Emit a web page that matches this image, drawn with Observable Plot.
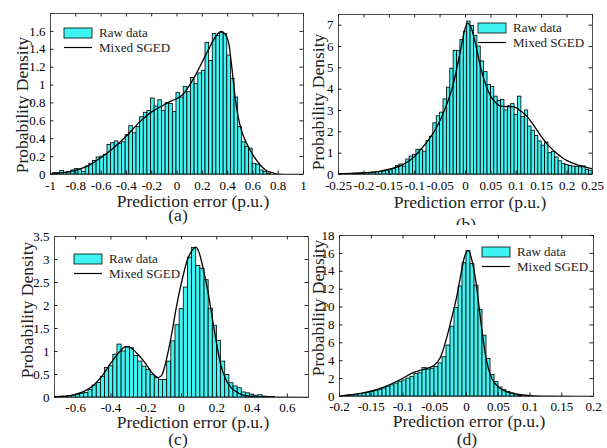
<!DOCTYPE html>
<html><head><meta charset="utf-8">
<script src="https://cdn.jsdelivr.net/npm/d3@7"></script>
<script src="https://cdn.jsdelivr.net/npm/@observablehq/plot@0.6"></script>
<style>
body{margin:0;background:#fff;}
#root{position:relative;width:607px;height:448px;overflow:hidden;background:#fff;font-family:"Liberation Serif","Times New Roman",serif;}
.panel{position:absolute;overflow:hidden;}
.panel svg{position:absolute;left:0;top:0;}
</style></head><body><div id="root"></div>
<script>
// ---------- DATA ----------
// (a)
const binStartA = -0.98, binWidthA = 0.0287;
const heightsA = [0.015,0.015,0.04,0.02,0.025,0.045,0.06,0.055,0.03,0.09,
  0.12,0.15,0.19,0.2,0.22,0.33,0.35,0.37,0.34,0.36,
  0.44,0.54,0.46,0.53,0.64,0.69,0.71,0.85,0.76,0.83,
  0.71,0.8,0.79,0.7,0.91,0.86,0.98,0.92,1.08,1.01,
  1.13,1.16,1.47,1.27,1.57,1.55,1.58,1.57,1.33,1.07,
  0.86,0.53,0.36,0.31,0.29,0.12,0.11,0.045,0.03,0.01];
const curveXA = [-1,-0.9,-0.8,-0.7,-0.6,-0.5,-0.4,-0.3,-0.2,-0.1,-0.05,0,0.05,0.1,0.15,0.2,0.25,0.3,0.35,0.38,0.41,0.43,0.46,0.49,0.52,0.55,0.6,0.65,0.7,0.75,0.8,0.9,1];
const curveYA = [0.005,0.02,0.05,0.1,0.19,0.3,0.43,0.58,0.7,0.78,0.82,0.85,0.9,1.0,1.12,1.26,1.4,1.53,1.6,1.57,1.46,1.24,0.86,0.6,0.45,0.35,0.22,0.12,0.05,0.02,0.005,0.001,0];
const xTicksA = [-1,-0.8,-0.6,-0.4,-0.2,0,0.2,0.4,0.6,0.8,1];
const yTicksA = [0,0.2,0.4,0.6,0.8,1,1.2,1.4,1.6];

// (b)
const binStartB = -0.25, binWidthB = 0.006667;
const heightsB = [0.02,0.02,0.03,0.03,0.04,0.04,0.05,0.06,0.07,0.08,0.09,0.11,0.12,
  0.14,0.17,0.2,0.26,0.4,0.47,0.37,0.7,0.84,0.92,1.16,1.16,1.07,1.57,1.77,2.4,2.73,2.9,3.52,4.07,4.96,5.8,5.8,6.3,6.7,
  7.17,6.96,6.5,6.0,5.3,4.8,4.2,4.1,
  3.65,3.45,3.5,3.0,3.2,3.3,2.8,3.65,2.7,3.0,2.25,2.05,1.8,1.55,1.35,1.5,1.0,1.05,0.8,0.62,0.5,0.45,0.4,0.37,0.36,0.34,0.38,0.22,0.18];
const curveXB = [-0.25,-0.2,-0.17,-0.15,-0.124,-0.1,-0.09,-0.075,-0.057,-0.04,-0.024,-0.01,0,0.004,0.01,0.02,0.03,0.04,0.05,0.06,0.07,0.08,0.09,0.1,0.11,0.12,0.13,0.14,0.15,0.16,0.17,0.18,0.19,0.2,0.22,0.24,0.25];
const curveYB = [0.02,0.07,0.15,0.25,0.45,0.85,1.12,1.55,2.2,3.1,4.24,5.8,6.9,7.1,6.95,6.1,5.0,4.2,3.65,3.35,3.2,3.18,3.18,3.12,2.95,2.75,2.45,2.1,1.75,1.45,1.2,0.98,0.8,0.65,0.45,0.32,0.27];
const xTicksB = [-0.25,-0.2,-0.15,-0.1,-0.05,0,0.05,0.1,0.15,0.2,0.25];
const yTicksB = [0,1,2,3,4,5,6,7];

// (c)
const binStartC = -0.7155, binWidthC = 0.0235;
const heightsC = [0.01,0.02,0.02,0.03,0.04,0.06,0.08,0.1,0.16,0.26,0.32,0.45,0.64,0.68,0.93,1.15,1.0,1.1,1.07,0.9,0.78,0.67,0.6,0.49,0.42,0.38,0.38,0.78,1.22,1.57,1.92,2.39,3.04,
  3.25,2.86,2.8,2.55,1.93,1.56,1.23,0.78,0.49,0.31,0.24,0.2,0.11,0.09,0.06,0.04,0.05,0.02,0.01,0.01];
const curveXC = [-0.72,-0.65,-0.6,-0.55,-0.5,-0.45,-0.4,-0.35,-0.32,-0.3,-0.27,-0.25,-0.2,-0.17,-0.15,-0.13,-0.11,-0.09,-0.07,-0.05,-0.03,0,0.03,0.06,0.08,0.1,0.12,0.15,0.18,0.2,0.22,0.25,0.28,0.3,0.35,0.4,0.5,0.72];
const curveYC = [0.01,0.03,0.07,0.14,0.26,0.47,0.75,1.0,1.1,1.1,1.03,0.95,0.72,0.55,0.47,0.43,0.5,0.75,1.1,1.5,1.95,2.5,2.95,3.2,3.27,3.15,2.85,2.3,1.6,1.15,0.75,0.4,0.22,0.15,0.05,0.02,0.005,0];
const xTicksC = [-0.6,-0.4,-0.2,0,0.2,0.4,0.6];
const yTicksC = [0,0.5,1,1.5,2,2.5,3,3.5];

// (d)
const binStartD = -0.1953, binWidthD = 0.0063;
const heightsD = [0.05,0.1,0.15,0.2,0.3,0.35,0.45,0.55,0.65,0.75,0.9,1.1,1.25,1.45,1.65,1.8,2.0,2.2,2.5,2.6,3.2,3.0,3.1,3.3,3.7,4.4,5.7,7.8,9.9,12.3,14.9,
  16.25,14.8,12.4,9.7,6.8,4.2,2.4,1.6,1.0,0.7,0.5,0.35,0.2,0.1];
const curveXD = [-0.2,-0.18,-0.156,-0.13,-0.104,-0.083,-0.06,-0.051,-0.041,-0.033,-0.025,-0.015,-0.009,-0.004,0.003,0.009,0.017,0.022,0.03,0.04,0.054,0.065,0.08,0.1,0.13,0.2];
const curveYD = [0.05,0.2,0.48,1.05,1.9,2.7,3.2,3.5,4.4,6.1,8.3,11.3,13.6,15.4,16.3,15.1,11.7,8.7,4.6,2.0,0.86,0.5,0.25,0.1,0.04,0];
const xTicksD = [-0.2,-0.15,-0.1,-0.05,0,0.05,0.1,0.15,0.2];
const yTicksD = [0,2,4,6,8,10,12,14,16,18];

const legendLabels = ["Raw data", "Mixed SGED"];
const xLabelText = "Prediction error (p.u.)";
const yLabelText = "Probability Density";
const tags = ["(a)", "(b)", "(c)", "(d)"];

// ---------- BUILD ----------
const CYAN = "#40F4F4";
const FONT = '"Liberation Serif", "Times New Roman", serif';
const fmt = d => String(+d.toFixed(2));

function bins(start, width, hs) { return hs.map((h, i) => ({x1: start + i*width, x2: start + (i+1)*width, y: h})); }
function pts(xs, ys) { return xs.map((x, i) => ({x, y: ys[i]})); }

const panels = [
  {left:0, top:0, w:310, h:225, ml:50, mt:13, fw:253, fh:161, xd:[-1,1], yd:[0,1.8], xt:xTicksA, yt:yTicksA,
   b:bins(binStartA,binWidthA,heightsA), c:pts(curveXA,curveYA), pad:6, yl:[22,105], xl:[193,207], tg:[178,221], lg:[64,28], tag:tags[0]},
  {left:300, top:0, w:307, h:225, ml:38, mt:14, fw:254, fh:160, xd:[-0.25,0.25], yd:[0,7.5], xt:xTicksB, yt:yTicksB,
   b:bins(binStartB,binWidthB,heightsB), c:pts(curveXB,curveYB), pad:6, yl:[18,102], xl:[170,208], tg:[166,230], lg:[178,23], tag:tags[1]},
  {left:0, top:225, w:315, h:223, ml:54, mt:11, fw:254, fh:161, xd:[-0.72,0.72], yd:[0,3.5], xt:xTicksC, yt:yTicksC,
   b:bins(binStartC,binWidthC,heightsC), c:pts(curveXC,curveYC), pad:5, yl:[27,85], xl:[193,203], tg:[178,220], lg:[74,29], tag:tags[2]},
  {left:300, top:225, w:307, h:223, ml:39, mt:10, fw:254, fh:161, xd:[-0.2,0.2], yd:[0,18], xt:xTicksD, yt:yTicksD,
   b:bins(binStartD,binWidthD,heightsD), c:pts(curveXD,curveYD), pad:5, yl:[18,83], xl:[169,202], tg:[167,220], lg:[182,22], tag:tags[3]},
];

const root = document.getElementById("root");
for (const p of panels) {
  const div = document.createElement("div");
  div.className = "panel";
  Object.assign(div.style, {left: p.left+"px", top: p.top+"px", width: p.w+"px", height: p.h+"px"});
  const plot = Plot.plot({
    width: p.w, height: p.h,
    marginLeft: p.ml, marginTop: p.mt, marginRight: p.w - p.ml - p.fw, marginBottom: p.h - p.mt - p.fh,
    x: {domain: p.xd}, y: {domain: p.yd},
    style: {fontFamily: FONT, fontSize: "13px", background: "transparent", color: "#000", overflow: "visible"},
    marks: [
      Plot.rectY(p.b, {x1: "x1", x2: "x2", y: "y", fill: CYAN, stroke: "#000", strokeWidth: 0.8, clip: true}),
      Plot.line(p.c, {x: "x", y: "y", stroke: "#000", strokeWidth: 1.3, curve: "monotone-x", clip: true}),
      Plot.frame({stroke: "#222", strokeWidth: 0.8}),
      Plot.tickX(p.xt, {x: d => d, insetTop: p.fh - 3.5, stroke: "#222"}),
      Plot.tickX(p.xt, {x: d => d, insetBottom: p.fh - 3.5, stroke: "#222"}),
      Plot.tickY(p.yt, {y: d => d, insetRight: p.fw - 3.5, stroke: "#222"}),
      Plot.tickY(p.yt, {y: d => d, insetLeft: p.fw - 3.5, stroke: "#222"}),
      Plot.axisX(p.xt, {tickSize: 0, tickPadding: p.pad, tickFormat: fmt, label: null}),
      Plot.axisY(p.yt, {tickSize: 0, tickPadding: 5, tickFormat: fmt, label: null})
    ]
  });
  div.appendChild(plot);

  // overlay for labels & legend
  const ov = d3.create("svg").attr("width", p.w).attr("height", p.h)
    .style("font-family", FONT).style("overflow", "hidden");
  ov.append("text").attr("transform", `translate(${p.yl[0]},${p.yl[1]}) rotate(-90)`)
    .attr("text-anchor", "middle").attr("dominant-baseline", "central")
    .attr("font-size", 17.5).attr("fill", "#222").text(yLabelText);
  ov.append("text").attr("x", p.xl[0]).attr("y", p.xl[1]).attr("text-anchor", "middle")
    .attr("font-size", 17.5).attr("fill", "#222").text(xLabelText);
  ov.append("text").attr("x", p.tg[0]).attr("y", p.tg[1]).attr("text-anchor", "middle")
    .attr("font-size", 17.5).attr("fill", "#222").text(p.tag);
  const gx = p.lg[0], gy = p.lg[1];
  ov.append("rect").attr("x", gx).attr("y", gy).attr("width", 28).attr("height", 10)
    .attr("fill", CYAN).attr("stroke", "#000").attr("stroke-width", 0.8);
  ov.append("text").attr("x", gx + 35).attr("y", gy + 9).attr("font-size", 13).attr("fill", "#222").text(legendLabels[0]);
  ov.append("line").attr("x1", gx).attr("x2", gx + 28).attr("y1", gy + 19.5).attr("y2", gy + 19.5)
    .attr("stroke", "#000").attr("stroke-width", 1.2);
  ov.append("text").attr("x", gx + 35).attr("y", gy + 24).attr("font-size", 13).attr("fill", "#222").text(legendLabels[1]);
  div.appendChild(ov.node());
  root.appendChild(div);
}
</script></body></html>
